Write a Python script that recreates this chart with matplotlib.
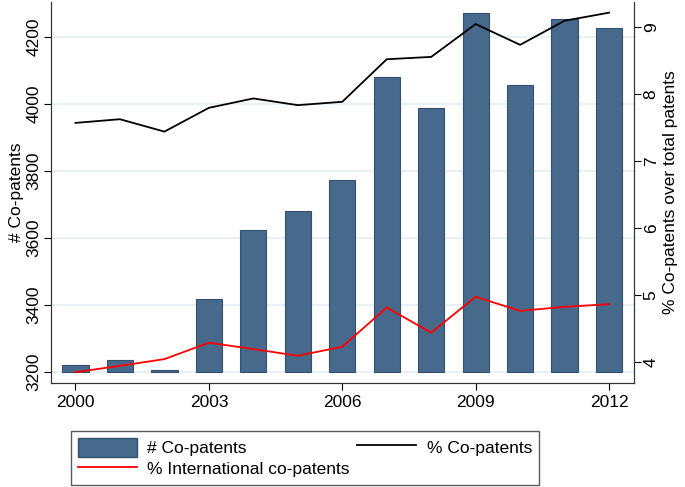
import matplotlib.pyplot as plt
import matplotlib.patches as mpatches
import matplotlib.lines as mlines

plt.rcParams['font.family'] = ['Liberation Sans', 'DejaVu Sans']

years = list(range(2000, 2013))
co_patents = [3223, 3237, 3208, 3418, 3624, 3682, 3773, 4081, 3988, 4272, 4056, 4252, 4226]
pct_co = [7.575, 7.63, 7.445, 7.80, 7.94, 7.84, 7.89, 8.525, 8.56, 9.05, 8.74, 9.10, 9.22]
pct_intl = [3.855, 3.95, 4.05, 4.295, 4.20, 4.10, 4.235, 4.82, 4.445, 4.98, 4.77, 4.83, 4.87]

bar_col = '#47698b'
base = 3200
fs = 12.5

fig = plt.figure(figsize=(6.85, 4.87), dpi=100)
ax = fig.add_axes([0.0745, 0.2136, 0.851, 0.7824])
heights = [v - base for v in co_patents]
ax.bar(years, heights, bottom=base, width=0.59, color=bar_col, edgecolor='#33506e', linewidth=0.8)
ax.set_xlim(1999.45, 2012.56)
ax.set_ylim(3168, 4304)
ax.set_yticks([3200, 3400, 3600, 3800, 4000, 4200])
ax.set_xticks([2000, 2003, 2006, 2009, 2012])
ax.set_axisbelow(True)
ax.yaxis.grid(True, color='#e6eff3', linewidth=1.2)
ax.set_ylabel('# Co-patents', fontsize=fs, labelpad=2)
ax.tick_params(axis='y', labelrotation=90, labelsize=fs, length=5, pad=2)
ax.tick_params(axis='x', labelsize=fs, length=5)
for lbl in ax.get_yticklabels():
    lbl.set_va('center')

ax2 = ax.twinx()
ax2.plot(years, pct_co, color='black', linewidth=1.3)
ax2.plot(years, pct_intl, color='red', linewidth=1.3)
ax2.set_ylim(3.694, 9.38)
ax2.set_yticks([4, 5, 6, 7, 8, 9])
ax2.set_ylabel('% Co-patents over total patents', fontsize=fs, labelpad=3)
ax2.tick_params(axis='y', labelrotation=90, labelsize=fs, length=5, pad=2)
for lbl in ax2.get_yticklabels():
    lbl.set_va('center')

for a in (ax, ax2):
    a.spines['top'].set_visible(False)
    for s in ('left', 'bottom', 'right'):
        a.spines[s].set_color('#333333')

h_bar = mpatches.Patch(facecolor=bar_col, edgecolor='#33506e', label='# Co-patents')
h_intl = mlines.Line2D([], [], color='red', linewidth=1.3, label='% International co-patents')
h_co = mlines.Line2D([], [], color='black', linewidth=1.3, label='% Co-patents')
fig.legend(handles=[h_bar, h_intl, h_co], ncol=2, loc='lower left',
           bbox_to_anchor=(0.1036, 0.004, 0.683, 0.119), mode='expand',
           fontsize=fs, frameon=True, fancybox=False, edgecolor='#333333',
           handlelength=3.4, handleheight=1.3, borderaxespad=0, labelspacing=0.15,
           handletextpad=0.6)

fig.savefig('out.png', dpi=100)
